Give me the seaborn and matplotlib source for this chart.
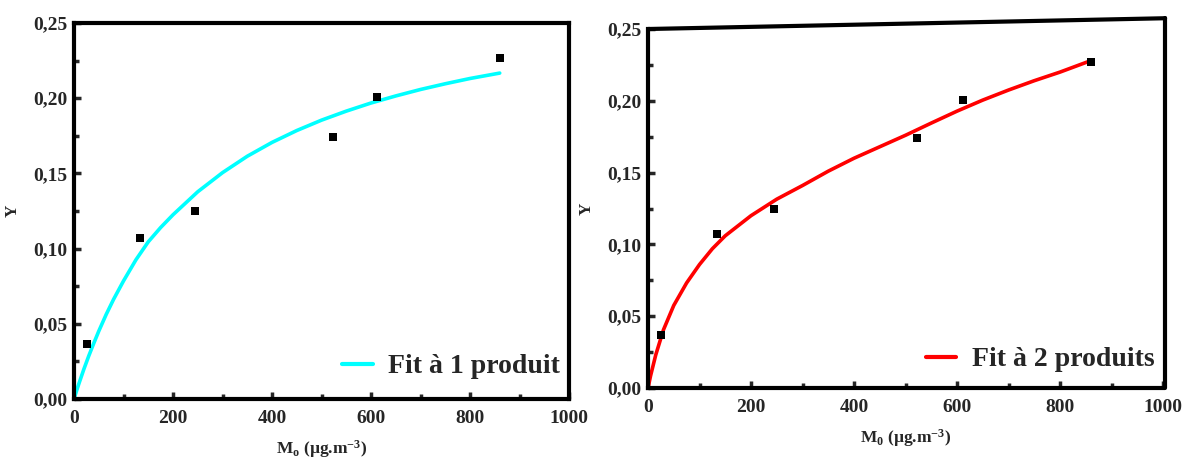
import matplotlib
matplotlib.use('Agg')
import matplotlib.pyplot as plt
from matplotlib.ticker import MultipleLocator, FuncFormatter
from matplotlib.lines import Line2D
import seaborn as sns
import pandas as pd

# ------------------------------------------------------------
# data
# ------------------------------------------------------------
m0_obs = [26, 133, 244, 523, 612, 860]
y_obs = [0.0366, 0.107, 0.125, 0.174, 0.2005, 0.227]

# fit curve 1 product (cyan)
m_fit1 = [0, 5, 10, 20, 30, 40, 50, 65, 80, 100, 125, 150, 175, 200, 250, 300, 350,
          400, 450, 500, 550, 600, 650, 700, 750, 800, 860]
y_fit1 = [0.0, 0.0053, 0.0103, 0.0199, 0.0288, 0.0371, 0.0451, 0.0562, 0.0663, 0.0785,
          0.0925, 0.1045, 0.1140, 0.1225, 0.1378, 0.1505, 0.1614, 0.1706, 0.1785,
          0.1854, 0.1914, 0.1968, 0.2015, 0.2058, 0.2096, 0.2131, 0.2167]

# fit curve 2 products (red)
m_fit2 = [0, 5, 15, 30, 50, 75, 100, 125, 150, 200, 250, 300, 350, 400, 450, 500,
          550, 600, 650, 700, 750, 800, 860]
y_fit2 = [0.0, 0.0085, 0.0230, 0.0405, 0.0575, 0.0732, 0.0860, 0.0970, 0.1060, 0.1200,
          0.1315, 0.1410, 0.1510, 0.1600, 0.1680, 0.1760, 0.1845, 0.1928, 0.2005,
          0.2075, 0.2140, 0.2200, 0.2280]

legend_labels = ["Fit à 1 produit", "Fit à 2 produits"]
xlabels = [r"M$_\mathregular{o}$ (µg.m$^\mathregular{-3}$)",
           r"M$_\mathregular{0}$ (µg.m$^\mathregular{-3}$)"]

sns.set_theme(style="ticks")
plt.rcParams['font.family'] = ['Liberation Serif', 'DejaVu Serif']
plt.rcParams['font.weight'] = 'bold'
plt.rcParams['mathtext.fontset'] = 'custom'
plt.rcParams['mathtext.rm'] = 'Liberation Serif:bold'
plt.rcParams['mathtext.default'] = 'regular'

fig = plt.figure(figsize=(11.84, 4.59), dpi=100)
ax1 = fig.add_axes([0.0625, 0.1307, 0.4181, 0.8192])
ax2 = fig.add_axes([0.5473, 0.1547, 0.4350, 0.7821])

fit_df1 = pd.DataFrame({"M": m_fit1, "Y": y_fit1})
fit_df2 = pd.DataFrame({"M": m_fit2, "Y": y_fit2})
obs_df = pd.DataFrame({"M": m0_obs, "Y": y_obs})

comma = FuncFormatter(lambda v, p: f"{v:.2f}".replace('.', ','))

panels = [(ax1, fit_df1, '#00FFFF', legend_labels[0], xlabels[0], (1.01, 0.015)),
          (ax2, fit_df2, '#FF0000', legend_labels[1], xlabels[1], (1.01, 0.005))]

for ax, fit_df, col, lab, xl, anchor in panels:
    sns.lineplot(data=fit_df, x="M", y="Y", color=col, linewidth=2.6, ax=ax, label=lab)
    sns.scatterplot(data=obs_df, x="M", y="Y", marker='s', s=40, color='black',
                    linewidth=0, ax=ax, zorder=5)
    ax.set_xlim(0, 1000)
    ax.set_ylim(0, 0.25)
    ax.xaxis.set_major_locator(MultipleLocator(200))
    ax.xaxis.set_minor_locator(MultipleLocator(100))
    ax.yaxis.set_major_locator(MultipleLocator(0.05))
    ax.yaxis.set_minor_locator(MultipleLocator(0.025))
    ax.yaxis.set_major_formatter(comma)
    ax.tick_params(which='major', direction='in', length=5, width=2.5,
                   labelsize=14, pad=5)
    ax.tick_params(which='minor', direction='in', length=3.5, width=2.5)
    ax.tick_params(axis='x', which='major', pad=8)
    for t in ax.get_xticklabels() + ax.get_yticklabels():
        t.set_fontweight('bold')
    for s in ax.spines.values():
        s.set_linewidth(3)
        s.set_color('black')
    ax.set_xlabel(xl, fontsize=12.5, fontweight='bold', labelpad=8)
    ax.set_ylabel("Y", fontsize=12.5, fontweight='bold', labelpad=9)
    leg = ax.legend(loc='lower right', bbox_to_anchor=anchor, frameon=False,
                    handlelength=1.1, handletextpad=0.55, borderaxespad=0.1,
                    prop={'family': 'Liberation Serif', 'weight': 'bold', 'size': 20})
    for h in leg.get_lines():
        h.set_linewidth(3)

# right panel: slightly tilted top border as in the scan
ax2.spines['top'].set_visible(False)
ax2.spines['right'].set_visible(False)
ax2.add_line(Line2D([0, 1.004], [1.0, 1.03], transform=ax2.transAxes, color='black',
                    linewidth=3, clip_on=False))
ax2.add_line(Line2D([1.004, 1.004], [0, 1.03], transform=ax2.transAxes, color='black',
                    linewidth=3, clip_on=False))

fig.savefig("out.png", dpi=100)
